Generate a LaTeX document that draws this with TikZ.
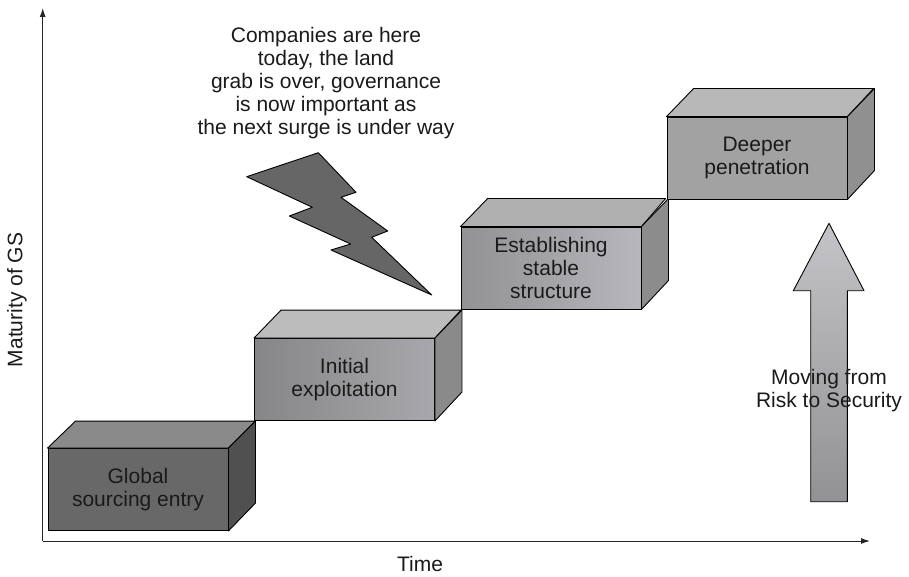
\documentclass[tikz,border=0pt]{standalone}
\usepackage{fontspec}
\setmainfont{Liberation Sans}
\usetikzlibrary{arrows.meta}
\definecolor{txt}{HTML}{1A1A1A}
\begin{document}
\begin{tikzpicture}[x=1pt,y=-1pt,
  face/.style={draw=black, line width=0.9pt, line join=round},
  lbl/.style={align=center, text=txt, font=\fontsize{21}{23}\selectfont},
  front/.style={face, minimum width=180pt, minimum height=82pt, inner sep=0pt, lbl},
  axis/.style={draw=black!85, line width=1pt, -{Latex[length=9pt,width=6pt]}},
]
\useasboundingbox (0,0) rectangle (909,577);

% axes
\coordinate (O) at (42.7,541);
\coordinate (Ytip) at (42.7,8);
\coordinate (Xtip) at (870,541);
\draw[axis] (O) -- (Ytip);
\draw[axis] (O) -- (Xtip);
\node[lbl, rotate=90] (ylab) at (17,300) {Maturity of GS};
\node[lbl, inner sep=1pt] (xlab) at (420,564) {Time};

% box 1
\node[front, fill={rgb,255:red,104;green,104;blue,104}] (b1) at (138,489.5) {Global\\sourcing entry};
\draw[face, fill={rgb,255:red,138;green,138;blue,138}] (b1.north west) -- ++(28,-27) -- ++(180,0) -- (b1.north east) -- cycle;
\draw[face, fill={rgb,255:red,80;green,80;blue,80}] (b1.north east) -- ++(27,-27) -- ++(0,82) -- (b1.south east) -- cycle;

% box 2
\node[front, left color={rgb,255:red,134;green,134;blue,136}, right color={rgb,255:red,168;green,168;blue,172}] (b2) at (344.5,379.5) {Initial\\exploitation};
\draw[face, fill={rgb,255:red,188;green,188;blue,188}] (b2.north west) -- ++(27,-28) -- ++(180,0) -- (b2.north east) -- cycle;
\draw[face, fill={rgb,255:red,138;green,138;blue,138}] (b2.north east) -- ++(27,-28) -- ++(0,82) -- (b2.south east) -- cycle;

% box 3
\node[front, left color={rgb,255:red,146;green,146;blue,148}, right color={rgb,255:red,182;green,182;blue,188}] (b3) at (551,268) {Establishing\\stable\\structure};
\draw[face, fill={rgb,255:red,176;green,176;blue,176}] (b3.north west) -- ++(27,-28) -- ++(178,0) -- (b3.north east) -- cycle;
\draw[face, fill={rgb,255:red,140;green,140;blue,140}] (b3.north east) -- ++(27,-28) -- ++(0,82) -- (b3.south east) -- cycle;

% box 4
\node[front, fill={rgb,255:red,162;green,162;blue,162}] (b4) at (757,158) {Deeper\\penetration};
\draw[face, fill={rgb,255:red,184;green,184;blue,184}] (b4.north west) -- ++(27,-28) -- ++(180,0) -- (b4.north east) -- cycle;
\draw[face, fill={rgb,255:red,144;green,144;blue,144}] (b4.north east) -- ++(27,-28) -- ++(0,82) -- (b4.south east) -- cycle;

% lightning bolt
\draw[face, fill={rgb,255:red,102;green,102;blue,102}]
  (246.7,176.7) -- (318.3,152.7) -- (356,192.3) -- (341,197.3) -- (387.7,231)
  -- (371.7,237.3) -- (431.7,295) -- (331,250) -- (350.7,244) -- (289.3,216)
  -- (312.3,207.3) -- cycle;

\node[lbl] (note) at (326,83) {Companies are here\\today, the land\\grab is over, governance\\is now important as\\the next surge is under way};

% big arrow
\draw[draw=black, line width=0.9pt, line join=round,
  top color={rgb,255:red,196;green,196;blue,200}, bottom color={rgb,255:red,146;green,146;blue,148}]
  (829,223.3) -- (864,290.7) -- (847.3,290.7) -- (847.3,501.7) -- (810.7,501.7)
  -- (810.7,290.7) -- (793.3,290.7) -- cycle;
\node[lbl] (arrlab) at (829,391) {Moving from\\Risk to Security};
\end{tikzpicture}
\end{document}
